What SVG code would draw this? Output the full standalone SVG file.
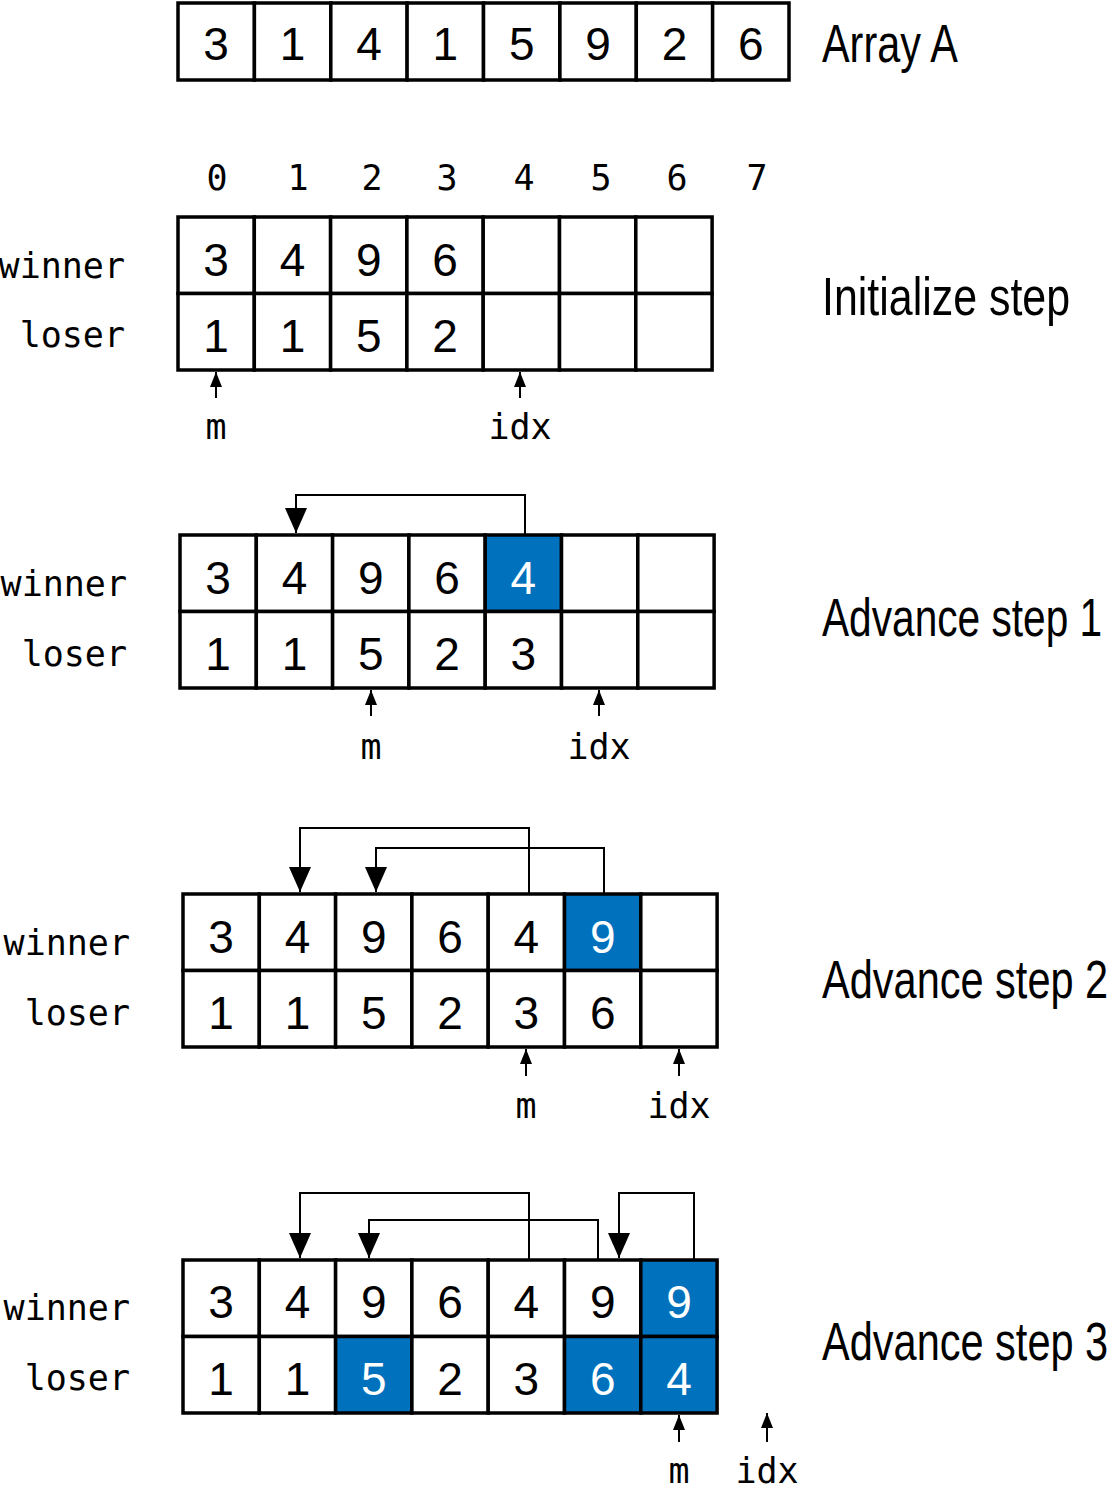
<svg xmlns="http://www.w3.org/2000/svg" width="1110" height="1493" viewBox="0 0 1110 1493">
<defs>
<marker id="big" viewBox="0 0 25 22" refX="25" refY="11" markerWidth="25" markerHeight="22" markerUnits="userSpaceOnUse" orient="auto"><path d="M0,0 L25,11 L0,22 z" fill="#000"/></marker>
<marker id="small" viewBox="0 0 15 12" refX="15" refY="6" markerWidth="15" markerHeight="12" markerUnits="userSpaceOnUse" orient="auto"><path d="M0,0 L15,6 L0,12 z" fill="#000"/></marker>
<style>
.cell{fill:#fff;stroke:#000;stroke-width:3.5}
.hl{fill:#0071bc;stroke:#000;stroke-width:3.5}
.d{font-family:'Liberation Sans',Arial,sans-serif;font-size:46px;text-anchor:middle;fill:#000}
.w{fill:#fff}
.mono{font-family:'DejaVu Sans Mono','Liberation Mono',monospace;font-size:35px;fill:#000}
.mid{text-anchor:middle}
.end{text-anchor:end}
.title{font-family:'Liberation Sans',Arial,sans-serif;font-size:54px;fill:#000}
.conn{fill:none;stroke:#000;stroke-width:2;marker-end:url(#big)}
.ptr{fill:none;stroke:#000;stroke-width:2;marker-end:url(#small)}
</style>
</defs>
<rect width="1110" height="1493" fill="#fff"/>

<g id="arrayA">
<rect class="cell" x="178" y="3" width="76.4" height="77"/>
<rect class="cell" x="254.4" y="3" width="76.4" height="77"/>
<rect class="cell" x="330.8" y="3" width="76.4" height="77"/>
<rect class="cell" x="407.1" y="3" width="76.4" height="77"/>
<rect class="cell" x="483.5" y="3" width="76.4" height="77"/>
<rect class="cell" x="559.9" y="3" width="76.4" height="77"/>
<rect class="cell" x="636.3" y="3" width="76.4" height="77"/>
<rect class="cell" x="712.6" y="3" width="76.4" height="77"/>
<text class="d" x="216" y="60">3</text>
<text class="d" x="292.6" y="60">1</text>
<text class="d" x="369" y="60">4</text>
<text class="d" x="445.3" y="60">1</text>
<text class="d" x="521.7" y="60">5</text>
<text class="d" x="598.1" y="60">9</text>
<text class="d" x="674.5" y="60">2</text>
<text class="d" x="750.8" y="60">6</text>
<text class="title" transform="translate(822 62) scale(0.767 1)">Array A</text>
</g>

<g id="indices">
<text class="mono mid" x="217" y="190">0</text>
<text class="mono mid" x="298" y="190">1</text>
<text class="mono mid" x="372" y="190">2</text>
<text class="mono mid" x="447" y="190">3</text>
<text class="mono mid" x="524" y="190">4</text>
<text class="mono mid" x="601" y="190">5</text>
<text class="mono mid" x="677" y="190">6</text>
<text class="mono mid" x="757" y="190">7</text>
</g>

<g id="init">
<rect class="cell" x="178" y="217" width="76.3" height="76.5"/>
<rect class="cell" x="254.3" y="217" width="76.3" height="76.5"/>
<rect class="cell" x="330.6" y="217" width="76.3" height="76.5"/>
<rect class="cell" x="406.9" y="217" width="76.3" height="76.5"/>
<rect class="cell" x="483.2" y="217" width="76.3" height="76.5"/>
<rect class="cell" x="559.5" y="217" width="76.3" height="76.5"/>
<rect class="cell" x="635.8" y="217" width="76.3" height="76.5"/>
<rect class="cell" x="178" y="293.5" width="76.3" height="76.5"/>
<rect class="cell" x="254.3" y="293.5" width="76.3" height="76.5"/>
<rect class="cell" x="330.6" y="293.5" width="76.3" height="76.5"/>
<rect class="cell" x="406.9" y="293.5" width="76.3" height="76.5"/>
<rect class="cell" x="483.2" y="293.5" width="76.3" height="76.5"/>
<rect class="cell" x="559.5" y="293.5" width="76.3" height="76.5"/>
<rect class="cell" x="635.8" y="293.5" width="76.3" height="76.5"/>
<text class="d" x="216" y="276">3</text>
<text class="d" x="292.5" y="276">4</text>
<text class="d" x="368.8" y="276">9</text>
<text class="d" x="445" y="276">6</text>
<text class="d" x="216" y="352">1</text>
<text class="d" x="292.5" y="352">1</text>
<text class="d" x="368.8" y="352">5</text>
<text class="d" x="445" y="352">2</text>
<text class="mono end" x="125" y="278">winner</text>
<text class="mono end" x="125" y="347">loser</text>
<text class="mono mid" x="216" y="439">m</text>
<text class="mono mid" x="520" y="439">idx</text>
<text class="title" transform="translate(822 315) scale(0.795 1)">Initialize step</text>
</g>

<g id="step1">
<rect class="cell" x="180" y="535" width="76.3" height="76.5"/>
<rect class="cell" x="256.3" y="535" width="76.3" height="76.5"/>
<rect class="cell" x="332.6" y="535" width="76.3" height="76.5"/>
<rect class="cell" x="408.9" y="535" width="76.3" height="76.5"/>
<rect class="hl" x="485.2" y="535" width="76.3" height="76.5"/>
<rect class="cell" x="561.5" y="535" width="76.3" height="76.5"/>
<rect class="cell" x="637.8" y="535" width="76.3" height="76.5"/>
<rect class="cell" x="180" y="611.5" width="76.3" height="76.5"/>
<rect class="cell" x="256.3" y="611.5" width="76.3" height="76.5"/>
<rect class="cell" x="332.6" y="611.5" width="76.3" height="76.5"/>
<rect class="cell" x="408.9" y="611.5" width="76.3" height="76.5"/>
<rect class="cell" x="485.2" y="611.5" width="76.3" height="76.5"/>
<rect class="cell" x="561.5" y="611.5" width="76.3" height="76.5"/>
<rect class="cell" x="637.8" y="611.5" width="76.3" height="76.5"/>
<text class="d" x="218" y="594">3</text>
<text class="d" x="294.5" y="594">4</text>
<text class="d" x="370.8" y="594">9</text>
<text class="d" x="447" y="594">6</text>
<text class="d w" x="523.3" y="594">4</text>
<text class="d" x="218" y="670">1</text>
<text class="d" x="294.5" y="670">1</text>
<text class="d" x="370.8" y="670">5</text>
<text class="d" x="447" y="670">2</text>
<text class="d" x="523.3" y="670">3</text>
<text class="mono end" x="127" y="596">winner</text>
<text class="mono end" x="127" y="666">loser</text>
<text class="mono mid" x="371" y="759">m</text>
<text class="mono mid" x="599" y="759">idx</text>
<text class="title" transform="translate(822 636) scale(0.753 1)">Advance step 1</text>
</g>

<g id="step2">
<rect class="cell" x="183" y="894" width="76.3" height="76.5"/>
<rect class="cell" x="259.3" y="894" width="76.3" height="76.5"/>
<rect class="cell" x="335.6" y="894" width="76.3" height="76.5"/>
<rect class="cell" x="411.9" y="894" width="76.3" height="76.5"/>
<rect class="cell" x="488.2" y="894" width="76.3" height="76.5"/>
<rect class="hl" x="564.5" y="894" width="76.3" height="76.5"/>
<rect class="cell" x="640.8" y="894" width="76.3" height="76.5"/>
<rect class="cell" x="183" y="970.5" width="76.3" height="76.5"/>
<rect class="cell" x="259.3" y="970.5" width="76.3" height="76.5"/>
<rect class="cell" x="335.6" y="970.5" width="76.3" height="76.5"/>
<rect class="cell" x="411.9" y="970.5" width="76.3" height="76.5"/>
<rect class="cell" x="488.2" y="970.5" width="76.3" height="76.5"/>
<rect class="cell" x="564.5" y="970.5" width="76.3" height="76.5"/>
<rect class="cell" x="640.8" y="970.5" width="76.3" height="76.5"/>
<text class="d" x="221" y="953">3</text>
<text class="d" x="297.5" y="953">4</text>
<text class="d" x="373.8" y="953">9</text>
<text class="d" x="450" y="953">6</text>
<text class="d" x="526.3" y="953">4</text>
<text class="d w" x="602.7" y="953">9</text>
<text class="d" x="221" y="1029">1</text>
<text class="d" x="297.5" y="1029">1</text>
<text class="d" x="373.8" y="1029">5</text>
<text class="d" x="450" y="1029">2</text>
<text class="d" x="526.3" y="1029">3</text>
<text class="d" x="602.7" y="1029">6</text>
<text class="mono end" x="130" y="955">winner</text>
<text class="mono end" x="130" y="1025">loser</text>
<text class="mono mid" x="526" y="1118">m</text>
<text class="mono mid" x="679" y="1118">idx</text>
<text class="title" transform="translate(822 998) scale(0.769 1)">Advance step 2</text>
</g>

<g id="step3">
<rect class="cell" x="183" y="1260" width="76.3" height="76.5"/>
<rect class="cell" x="259.3" y="1260" width="76.3" height="76.5"/>
<rect class="cell" x="335.6" y="1260" width="76.3" height="76.5"/>
<rect class="cell" x="411.9" y="1260" width="76.3" height="76.5"/>
<rect class="cell" x="488.2" y="1260" width="76.3" height="76.5"/>
<rect class="cell" x="564.5" y="1260" width="76.3" height="76.5"/>
<rect class="hl" x="640.8" y="1260" width="76.3" height="76.5"/>
<rect class="cell" x="183" y="1336.5" width="76.3" height="76.5"/>
<rect class="cell" x="259.3" y="1336.5" width="76.3" height="76.5"/>
<rect class="hl" x="335.6" y="1336.5" width="76.3" height="76.5"/>
<rect class="cell" x="411.9" y="1336.5" width="76.3" height="76.5"/>
<rect class="cell" x="488.2" y="1336.5" width="76.3" height="76.5"/>
<rect class="hl" x="564.5" y="1336.5" width="76.3" height="76.5"/>
<rect class="hl" x="640.8" y="1336.5" width="76.3" height="76.5"/>
<text class="d" x="221" y="1318">3</text>
<text class="d" x="297.5" y="1318">4</text>
<text class="d" x="373.8" y="1318">9</text>
<text class="d" x="450" y="1318">6</text>
<text class="d" x="526.3" y="1318">4</text>
<text class="d" x="602.7" y="1318">9</text>
<text class="d w" x="679" y="1318">9</text>
<text class="d" x="221" y="1395">1</text>
<text class="d" x="297.5" y="1395">1</text>
<text class="d w" x="373.8" y="1395">5</text>
<text class="d" x="450" y="1395">2</text>
<text class="d" x="526.3" y="1395">3</text>
<text class="d w" x="602.7" y="1395">6</text>
<text class="d w" x="679" y="1395">4</text>
<text class="mono end" x="130" y="1320">winner</text>
<text class="mono end" x="130" y="1390">loser</text>
<text class="mono mid" x="679" y="1483">m</text>
<text class="mono mid" x="767" y="1483">idx</text>
<text class="title" transform="translate(822 1360) scale(0.769 1)">Advance step 3</text>
</g>

<g id="connectors">
<path class="conn" d="M525,535 V495 H296 V533"/>
<path class="conn" d="M529,894 V828 H300 V892"/>
<path class="conn" d="M604,894 V848 H376 V892"/>
<path class="conn" d="M529,1260 V1193 H300 V1258"/>
<path class="conn" d="M598,1260 V1220 H369 V1258"/>
<path class="conn" d="M694,1260 V1193 H619 V1258"/>
<path class="ptr" d="M216,398 V372"/>
<path class="ptr" d="M520,398 V372"/>
<path class="ptr" d="M371,716 V690"/>
<path class="ptr" d="M599,716 V690"/>
<path class="ptr" d="M526,1076 V1049"/>
<path class="ptr" d="M679,1076 V1049"/>
<path class="ptr" d="M679,1442 V1415"/>
<path class="ptr" d="M767,1442 V1413"/>
</g>
</svg>
